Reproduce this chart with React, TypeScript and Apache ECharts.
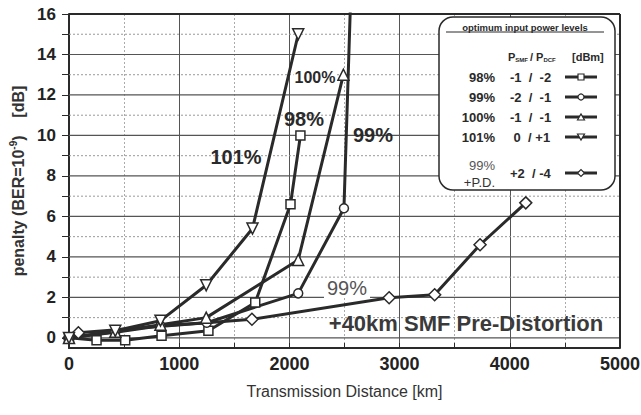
import React, { useEffect, useRef } from "react";
import * as echarts from "echarts";

// ---- data ----
const s98: [number, number][] = [[0, 0], [250, -0.12], [510, -0.12], [840, 0.1], [1265, 0.35], [1690, 1.75], [2010, 6.6], [2100, 10.0]];
const s99: [number, number][] = [[0, 0], [420, 0.28], [830, 0.6], [1250, 0.75], [2080, 2.2], [2495, 6.4], [2560, 17.5]];
const s100: [number, number][] = [[0, 0], [420, 0.3], [830, 0.65], [1245, 1.0], [2080, 3.85], [2490, 13.0]];
const s101: [number, number][] = [[0, 0], [420, 0.35], [830, 0.85], [1245, 2.6], [1665, 5.4], [2080, 15.0]];
const sPD: [number, number][] = [[0, 0], [85, 0.25], [1660, 0.92], [2905, 1.98], [3318, 2.13], [3730, 4.6], [4145, 6.67]];

const yLabelValues = [0, 2, 4, 6, 8, 10, 12, 14, 16];
const yTickValues = [0, 1, 2, 3, 4, 5, 6, 7, 8, 9, 10, 11, 12, 13, 14, 15, 16];
const ySolidGrid = [0, 2, 4, 6, 8, 10, 12, 14];
const yDashedGrid = [1, 3, 5, 7, 9, 11, 13, 15];
const xRange = [0, 5000];
const yRange = [-0.5, 16];

const legendRows = [
  { pct: "98%", val: "-1  /  -2", sym: "rect" },
  { pct: "99%", val: "-2  /  -1", sym: "circle" },
  { pct: "100%", val: "-1  /  -1", sym: "triangle" },
  { pct: "101%", val: " 0  / +1", sym: "down" },
];

const FONT = "Liberation Sans, Arial, Helvetica, sans-serif";
const DARK = "#2a2a2a";
const DOWN = "path://M0,0 L10,0 L5,9 Z";
const DIAMOND = "diamond";

function legendMarker(sym: string, cx: number, cy: number): any {
  const style = { fill: "#fff", stroke: DARK, lineWidth: 1.2 };
  if (sym === "rect") return { type: "rect", shape: { x: cx - 3, y: cy - 3, width: 6, height: 6 }, style, z: 102 };
  if (sym === "circle") return { type: "circle", shape: { cx, cy, r: 3 }, style, z: 102 };
  if (sym === "triangle") return { type: "polygon", shape: { points: [[cx - 3.5, cy + 3], [cx + 3.5, cy + 3], [cx, cy - 3]] }, style, z: 102 };
  if (sym === "down") return { type: "polygon", shape: { points: [[cx - 3.5, cy - 3], [cx + 3.5, cy - 3], [cx, cy + 3]] }, style, z: 102 };
  return { type: "polygon", shape: { points: [[cx - 3.5, cy], [cx, cy - 3.5], [cx + 3.5, cy], [cx, cy + 3.5]] }, style, z: 102 };
}

export default function App() {
  const ref = useRef<HTMLDivElement>(null);
  useEffect(() => {
    if (!ref.current) return;
    const chart = echarts.init(ref.current, null, { renderer: "svg" });

    const mkSeries = (name: string, data: [number, number][], symbol: string, size = 10) => ({
      name,
      type: "line",
      data,
      symbol,
      symbolSize: size,
      showAllSymbol: true,
      clip: true,
      z: 6,
      lineStyle: { color: DARK, width: 3 },
      itemStyle: { color: "#fff", borderColor: DARK, borderWidth: 1.5 },
    });

    // horizontal gridlines: custom series, positioned through the axis scales
    const gridData = [
      ...ySolidGrid.map((v) => [v, 1]),
      ...yDashedGrid.map((v) => [v, 0]),
    ];
    const gridCustom = {
      type: "custom",
      z: 3,
      silent: true,
      clip: false,
      data: gridData,
      encode: { y: 0 },
      renderItem: (params: any, api: any) => {
        const v = api.value(0);
        const solid = api.value(1) === 1;
        const p1 = api.coord([xRange[0], v]);
        const p2 = api.coord([xRange[1], v]);
        return {
          type: "line",
          shape: { x1: p1[0], y1: p1[1], x2: p2[0], y2: p2[1] },
          style: solid
            ? { stroke: "#555", lineWidth: 1.2 }
            : { stroke: "#999", lineWidth: 1, lineDash: [2, 2] },
        };
      },
    };

    const frameLine = (data: number[][]) => ({
      type: "line",
      data,
      symbol: "none",
      z: 4,
      clip: false,
      silent: true,
      lineStyle: { color: DARK, width: 2 },
    });

    const legendGraphics: any[] = [
      { type: "rect", shape: { x: 439, y: 17, width: 176, height: 173, r: 14 }, style: { fill: "#fff", stroke: DARK, lineWidth: 1.5 }, z: 100 },
      { type: "text", x: 525, y: 27, style: { text: "optimum input power levels", font: `bold 9.5px ${FONT}`, fill: DARK, align: "center", verticalAlign: "middle" }, z: 101 },
      { type: "line", shape: { x1: 446, y1: 32, x2: 604, y2: 32 }, style: { stroke: DARK, lineWidth: 1 }, z: 101 },
      {
        type: "text", x: 508, y: 57, z: 101,
        style: {
          text: "{a|P}{s|SMF}{a|/ P}{s|DCF}",
          verticalAlign: "middle",
          rich: {
            a: { font: `bold 11px ${FONT}`, fill: DARK },
            s: { font: `bold 6px ${FONT}`, fill: DARK, verticalAlign: "bottom", padding: [4, 2, 0, 0] },
          },
        },
      },
      { type: "text", x: 572, y: 57, style: { text: "[dBm]", font: `bold 11px ${FONT}`, fill: DARK, verticalAlign: "middle" }, z: 101 },
    ];
    const rowY = [77, 97, 117, 137];
    legendRows.forEach((r, i) => {
      const y = rowY[i];
      legendGraphics.push(
        { type: "text", x: 495, y, style: { text: r.pct, font: `bold 13px ${FONT}`, fill: DARK, align: "right", verticalAlign: "middle" }, z: 101 },
        { type: "text", x: 510, y, style: { text: r.val, font: `bold 13px ${FONT}`, fill: DARK, verticalAlign: "middle" }, z: 101 },
        { type: "line", shape: { x1: 565, y1: y, x2: 597, y2: y }, style: { stroke: DARK, lineWidth: 3 }, z: 101 },
        legendMarker(r.sym, 581, y)
      );
    });
    legendGraphics.push(
      { type: "text", x: 495, y: 165, style: { text: "99%", font: `13px ${FONT}`, fill: "#555", align: "right", verticalAlign: "middle" }, z: 101 },
      { type: "text", x: 495, y: 182, style: { text: "+P.D.", font: `13px ${FONT}`, fill: "#333", align: "right", verticalAlign: "middle" }, z: 101 },
      { type: "text", x: 510, y: 173, style: { text: "+2  / -4", font: `bold 13px ${FONT}`, fill: DARK, verticalAlign: "middle" }, z: 101 },
      { type: "line", shape: { x1: 565, y1: 173, x2: 597, y2: 173 }, style: { stroke: DARK, lineWidth: 3 }, z: 101 },
      legendMarker("diamond", 581, 173)
    );

    const labelGraphics: any[] = [
      { type: "text", x: 236, y: 157, style: { text: "101%", font: `bold 20px ${FONT}`, fill: DARK, align: "center", verticalAlign: "middle" }, z: 50 },
      { type: "text", x: 304, y: 119, style: { text: "98%", font: `bold 20px ${FONT}`, fill: DARK, align: "center", verticalAlign: "middle" }, z: 50 },
      { type: "text", x: 315, y: 77, style: { text: "100%", font: `bold 16px ${FONT}`, fill: DARK, align: "center", verticalAlign: "middle", backgroundColor: "#fff", padding: [1, 1] }, z: 50 },
      { type: "text", x: 373, y: 135, style: { text: "99%", font: `bold 20px ${FONT}`, fill: DARK, align: "center", verticalAlign: "middle" }, z: 50 },
      { type: "text", x: 347, y: 288, style: { text: "99%", font: `20px ${FONT}`, fill: "#555", align: "center", verticalAlign: "middle", backgroundColor: "#fff", padding: [0, 3] }, z: 50 },
      { type: "text", x: 466, y: 323, style: { text: "+40km SMF Pre-Distortion", font: `bold 22px ${FONT}`, fill: "#3a3a3a", align: "center", verticalAlign: "middle" }, z: 50 },
    ];

    chart.setOption({
      animation: false,
      backgroundColor: "#fff",
      grid: { left: 69, right: 21, top: 14, bottom: 67, outerBoundsMode: "none", containLabel: false },
      xAxis: {
        type: "value",
        min: 0,
        max: 5000,
        interval: 1000,
        name: "Transmission Distance [km]",
        nameLocation: "middle",
        nameGap: 35,
        nameTextStyle: { fontFamily: FONT, fontSize: 16, color: "#333" },
        axisLine: { onZero: false, lineStyle: { color: DARK, width: 2 } },
        axisTick: { show: true, inside: true, length: 5, lineStyle: { color: DARK } },
        minorTick: { show: true, splitNumber: 2, length: 5, lineStyle: { color: DARK } },
        axisLabel: { fontFamily: FONT, fontWeight: "bold", fontSize: 18, color: "#222", margin: 7, formatter: (v: number) => String(v) },
        splitLine: { show: true, lineStyle: { color: "#555", width: 1 } },
        minorSplitLine: { show: true, lineStyle: { color: "#aaa", width: 1, type: [2, 2] } },
      },
      yAxis: {
        type: "value",
        min: yRange[0],
        max: yRange[1],
        name: "{a|penalty (BER=10}{s|-9}{a|)    [dB]}",
        nameLocation: "middle",
        nameGap: 37,
        nameRotate: 90,
        nameTextStyle: {
          rich: {
            a: { fontFamily: FONT, fontWeight: "bold", fontSize: 16, color: "#333", lineHeight: 20 },
            s: { fontFamily: FONT, fontWeight: "bold", fontSize: 10, color: "#333", lineHeight: 20, verticalAlign: "top", padding: [0, 0, 8, 0] },
          },
        },
        axisLine: { onZero: false, lineStyle: { color: DARK, width: 2 } },
        axisTick: { show: true, customValues: yTickValues, length: 7, lineStyle: { color: DARK } },
        axisLabel: { customValues: yLabelValues, fontFamily: FONT, fontWeight: "bold", fontSize: 17, color: "#222", margin: 13, formatter: (v: number) => String(v) },
        splitLine: { show: false },
      },
      series: [
        gridCustom,
        frameLine([[xRange[0], yRange[1]], [xRange[1], yRange[1]]]),
        frameLine([[xRange[1], yRange[0]], [xRange[1], yRange[1]]]),
        mkSeries("99% P.D.", sPD, DIAMOND, 12),
        mkSeries("98%", s98, "rect", 9),
        mkSeries("99%", s99, "circle", 9),
        mkSeries("100%", s100, "triangle", 11),
        mkSeries("101%", s101, DOWN, 11),
      ],
      graphic: [...labelGraphics, ...legendGraphics],
    });
    return () => chart.dispose();
  }, []);
  return <div ref={ref} style={{ width: 641, height: 415, position: "absolute", left: 0, top: 0 }} />;
}
